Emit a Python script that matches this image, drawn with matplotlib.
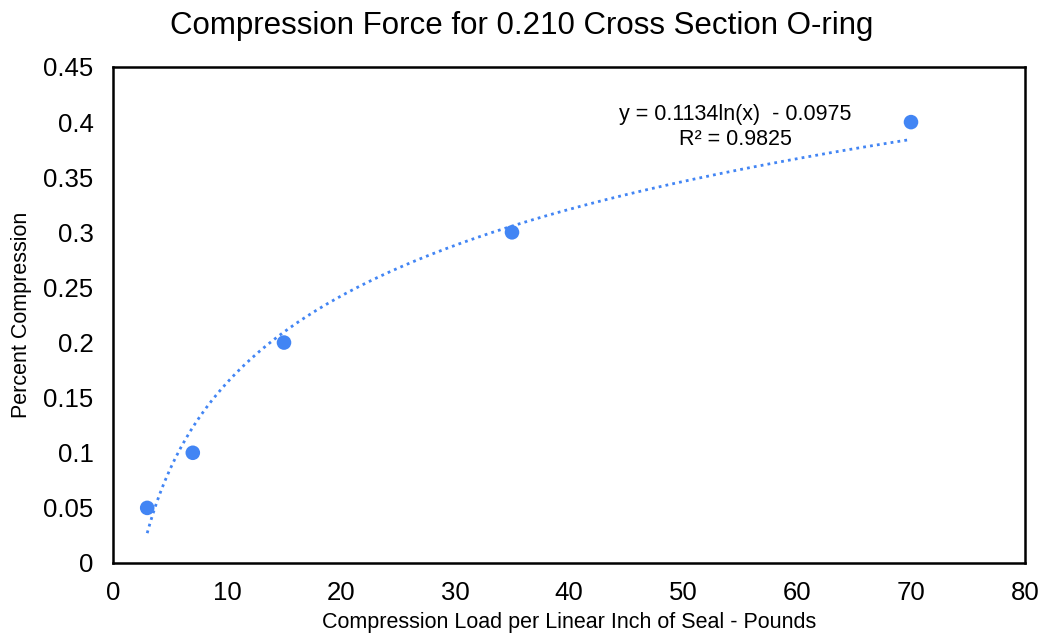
import numpy as np
import matplotlib
matplotlib.use("Agg")
import matplotlib.pyplot as plt

plt.rcParams['font.family'] = ['Liberation Sans', 'DejaVu Sans']

load = [3, 7, 15, 35, 70]
compression = [0.05, 0.1, 0.2, 0.3, 0.4]

# log trendline as shown on the chart
a, b = 0.1134, -0.0975

fig = plt.figure(figsize=(10.44, 6.39), dpi=100)
ax = fig.add_axes([113/1044, 1 - 563/639, (1025-113)/1044, (563-67)/639])

blue = '#4285f4'
xs = np.linspace(min(load), max(load), 300)
ax.plot(xs, a*np.log(xs) + b, linestyle=(0, (1, 1.5)), color=blue, linewidth=2.0)
ax.scatter(load, compression, s=110, color=blue, zorder=3, edgecolors='none')

ax.set_xlim(0, 80)
ax.set_ylim(0, 0.45)
ax.set_xticks(range(0, 81, 10))
ax.set_yticks([0, 0.05, 0.1, 0.15, 0.2, 0.25, 0.3, 0.35, 0.4, 0.45])
ax.set_yticklabels(['0', '0.05', '0.1', '0.15', '0.2', '0.25', '0.3', '0.35', '0.4', '0.45'])
ax.tick_params(length=0, labelsize=18.5)
ax.tick_params(axis='y', pad=14)
ax.tick_params(axis='x', pad=13)
for s in ax.spines.values():
    s.set_linewidth(1.8)
    s.set_color('black')

ax.set_xlabel('Compression Load per Linear Inch of Seal - Pounds', fontsize=15.5, labelpad=5)
ax.set_ylabel('Percent Compression', fontsize=15.5, labelpad=8)
fig.suptitle('Compression Force for 0.210 Cross Section O-ring', fontsize=22.5, y=0.983)

ax.text(54.6, 0.3956, 'y = 0.1134ln(x)  - 0.0975\nR² = 0.9825', fontsize=15.5,
        ha='center', va='center', linespacing=1.25)

fig.savefig('out.png', dpi=100)
